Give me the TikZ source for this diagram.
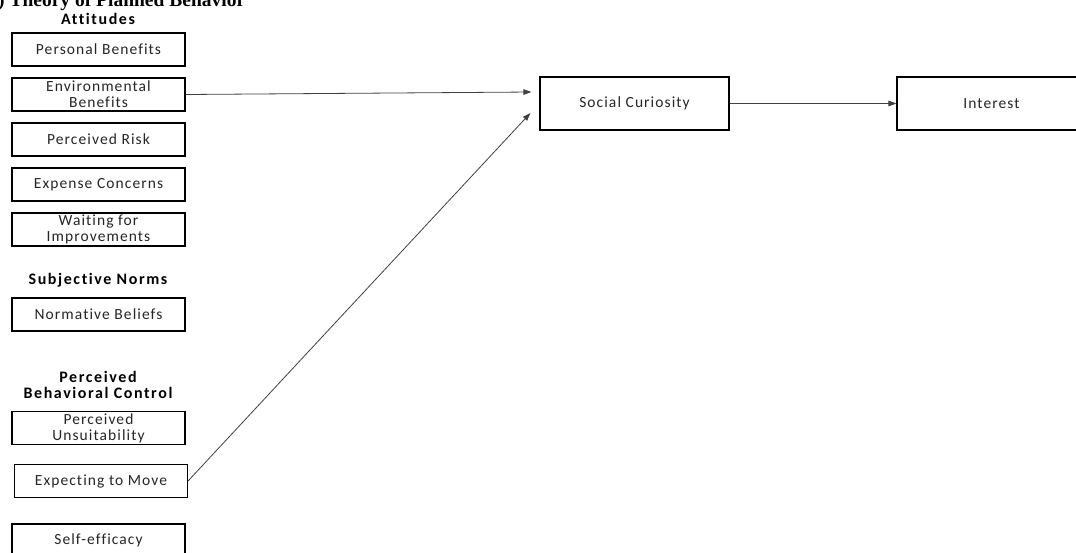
\documentclass[tikz,border=0pt]{standalone}
\usepackage{fontspec}
\usetikzlibrary{arrows.meta}
\setmainfont{Carlito}
\newfontfamily\boxfont{Carlito}[LetterSpace=7, Ligatures=NoCommon]
\newfontfamily\headfont{Carlito}[LetterSpace=10, Ligatures=NoCommon]
\newfontfamily\titlefont{Liberation Serif}

\tikzset{
  every picture/.style={x=1pt, y=-1pt},
  stepbox/.style={draw=black, line width=1.1pt, fill=white, minimum width=173pt,
    minimum height=33pt, inner sep=0pt, align=center, text=black!85,
    font=\boxfont\fontsize{15.5}{16}\selectfont},
  bigbox/.style={stepbox, minimum width=189pt, minimum height=53pt},
  heading/.style={align=center, inner sep=0pt, text=black,
    font=\headfont\bfseries\fontsize{16}{16.5}\selectfont},
  link/.style={draw=black!75, line width=0.8pt,
    -{Triangle[length=8pt, width=5.5pt]}},
}

\begin{document}
\begin{tikzpicture}
\useasboundingbox (0,0) rectangle (1076,552);

% caption, cut by the top edge
\node[anchor=base west, inner sep=0pt,
      font=\titlefont\bfseries\fontsize{19.5}{20}\selectfont] (title) at (-2,6)
  {) Theory of Planned Behavior};

% group headings
\node[heading] (att) at (98,19) {Attitudes};
\node[heading] (sn)  at (98,280) {Subjective Norms};
\node[heading] (pbc) at (98,385) {Perceived\\Behavioral Control};

% predictor boxes
\node[stepbox] (pb) at (98.5,49.5)  {Personal Benefits};
\node[stepbox] (eb) at (98.5,94.5)  {Environmental\\Benefits};
\node[stepbox] (pr) at (98.5,139.5) {Perceived Risk};
\node[stepbox] (ec) at (98.5,184.5) {Expense Concerns};
\node[stepbox] (wi) at (98.5,229.5) {Waiting for\\Improvements};
\node[stepbox] (nb) at (98.5,314.5) {Normative Beliefs};
\node[stepbox] (pu) at (98.5,428)   {Perceived\\Unsuitability};
\node[stepbox] (em) at (101,481)    {Expecting to Move};
\node[stepbox] (se) at (98.5,540.5) {Self-efficacy};

% mediator and outcome
\node[bigbox] (sc)  at (634.5,103.5) {Social Curiosity};
\node[bigbox] (int) at (991.5,103.5) {Interest};

% arrow end points just short of the mediator
\coordinate (scin1) at ([xshift=-8pt, yshift=11.5pt]sc.west);
\coordinate (scin2) at ([xshift=-9pt, yshift=-9.5pt]sc.west);

\draw[link] (eb.east) -- (scin1);
\draw[link] (em.east) -- (scin2);
\draw[link] (sc.east) -- (int.west);
\end{tikzpicture}
\end{document}
